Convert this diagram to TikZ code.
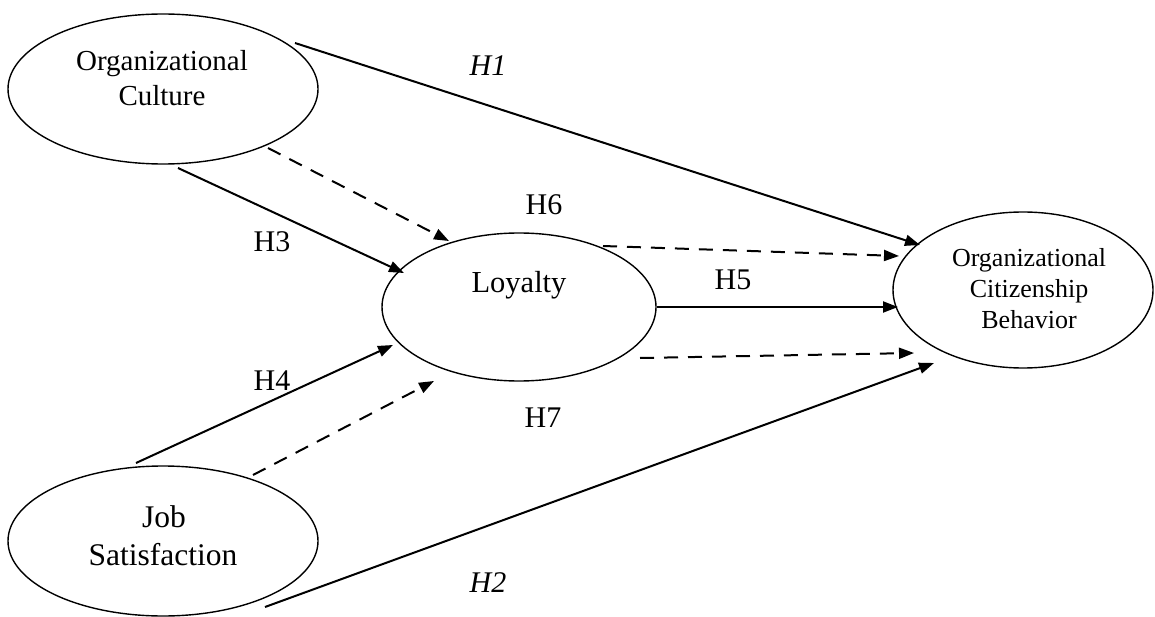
\documentclass[tikz,border=0pt]{standalone}
\usepackage{fontspec}
\setmainfont{Liberation Serif}
\usetikzlibrary{arrows.meta,shapes.geometric}
\begin{document}
\begin{tikzpicture}[x=1pt,y=-1pt,
  construct/.style={draw,ellipse,line width=1.4pt,inner sep=0pt},
  txt/.style={anchor=base,inner sep=0pt},
  hlab/.style={anchor=base,inner sep=0pt,font=\fontsize{30}{36}\selectfont},
  link/.style={line width=2pt,-{Triangle[length=15pt,width=11pt]}},
  dlink/.style={link,dash pattern=on 14pt off 10pt}]
\useasboundingbox (0,0) rectangle (1155,617);
% constructs
\node[construct,minimum width=310pt,minimum height=150pt] (oc) at (163,89) {};
\node[construct,minimum width=274pt,minimum height=148pt] (loy) at (519,307) {};
\node[construct,minimum width=260pt,minimum height=156pt] (ocb) at (1023,290) {};
\node[construct,minimum width=310pt,minimum height=150pt] (js) at (163,541) {};
% texts
\node[txt,font=\fontsize{29}{35}\selectfont] (oct1) at (162,71) {Organizational};
\node[txt,font=\fontsize{29}{35}\selectfont] (oct2) at (162,106) {Culture};
\node[txt,font=\fontsize{30.5}{36}\selectfont] (loyt) at (519,293) {Loyalty};
\node[txt,font=\fontsize{26}{30}\selectfont] (ocbt1) at (1029,267) {Organizational};
\node[txt,font=\fontsize{26}{30}\selectfont] (ocbt2) at (1029,298) {Citizenship};
\node[txt,font=\fontsize{26}{30}\selectfont] (ocbt3) at (1029,328) {Behavior};
\node[txt,font=\fontsize{31.5}{38}\selectfont] (jst1) at (164,527) {Job};
\node[txt,font=\fontsize{31.5}{38}\selectfont] (jst2) at (163,565) {Satisfaction};
% hypothesis labels
\node[hlab,font=\fontsize{30}{36}\selectfont\itshape] (h1) at (488,76) {H1};
\node[hlab,font=\fontsize{30}{36}\selectfont\itshape] (h2) at (488,592) {H2};
\node[hlab] (h3) at (272,252) {H3};
\node[hlab] (h4) at (272,390) {H4};
\node[hlab] (h5) at (733,290) {H5};
\node[hlab] (h6) at (544,215) {H6};
\node[hlab] (h7) at (543,427) {H7};
% connector end points
\coordinate (a1s) at (295,43);  \coordinate (a1e) at (920,245);
\coordinate (a3s) at (178,168); \coordinate (a3e) at (404,273);
\coordinate (d3s) at (268,148); \coordinate (d3e) at (449,241);
\coordinate (a4s) at (136,463); \coordinate (a4e) at (393,345);
\coordinate (d4s) at (253,475); \coordinate (d4e) at (434,381);
\coordinate (d6s) at (603,246); \coordinate (d6e) at (899,256);
\coordinate (a5s) at (657,307); \coordinate (a5e) at (898,307);
\coordinate (d7s) at (640,358); \coordinate (d7e) at (914,353);
\coordinate (a2s) at (265,607); \coordinate (a2e) at (934,363);
% connectors
\draw[link]  (a1s) -- (a1e);
\draw[link]  (a3s) -- (a3e);
\draw[dlink] (d3s) -- (d3e);
\draw[link]  (a4s) -- (a4e);
\draw[dlink] (d4s) -- (d4e);
\draw[dlink] (d6s) -- (d6e);
\draw[link]  (a5s) -- (a5e);
\draw[dlink] (d7s) -- (d7e);
\draw[link]  (a2s) -- (a2e);
\end{tikzpicture}
\end{document}
